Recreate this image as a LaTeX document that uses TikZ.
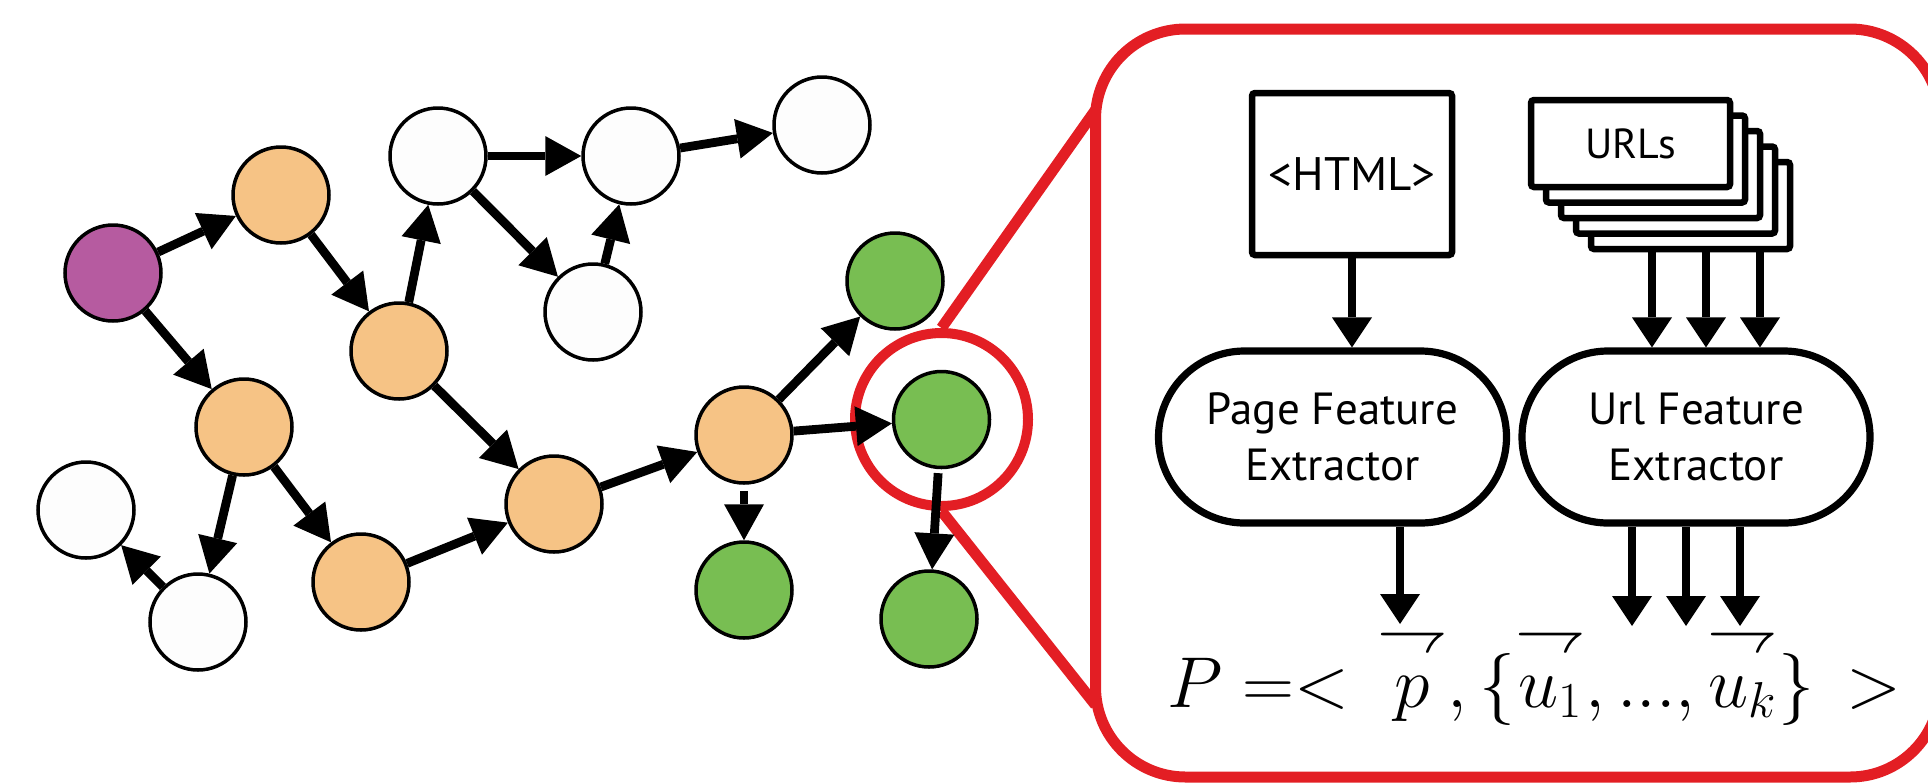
\RequirePackage{fix-cm}
\documentclass[tikz,border=0pt]{standalone}
\usepackage{amsmath}
\usepackage{graphicx}
\usepackage{fontspec}
\newfontfamily\labelfont{PT Sans}
\usetikzlibrary{arrows.meta,shapes.misc}

% feature vector: a right harpoon set well above its argument
\newcommand{\featvec}[1]{\overset{\scalebox{1.0}{$\rightharpoondown$}}{\vphantom{t}#1}}

\definecolor{hubpurple}{RGB}{182,91,160}
\definecolor{pageorange}{RGB}{246,195,133}
\definecolor{relgreen}{RGB}{120,190,82}
\definecolor{plainpage}{RGB}{253,253,253}
\definecolor{zoomred}{RGB}{227,30,36}

\tikzset{
  webpage/.style={circle, draw=black, line width=1.75pt, minimum size=48pt, inner sep=0pt},
  hubpage/.style={webpage, fill=hubpurple},
  crawled/.style={webpage, fill=pageorange},
  relevant/.style={webpage, fill=relgreen},
  unseen/.style={webpage, fill=plainpage},
  hop/.style={line width=4.4pt, -{Triangle[length=18pt,width=20pt,line width=0pt]}},
  flow/.style={line width=3.6pt, -{Triangle[length=15pt,width=20pt,line width=0pt]}},
  doc/.style={draw=black, line width=3.25pt, rounded corners=1.5pt, fill=white, inner sep=0pt},
  extractor/.style={rounded rectangle, draw=black, line width=3.6pt, minimum width=174pt,
    minimum height=86pt, align=center, inner sep=0pt,
    font=\labelfont\fontsize{22.5}{28}\selectfont},
  lens/.style={draw=zoomred, line width=5.5pt},
}

\begin{document}
\begin{tikzpicture}[x=0.5pt,y=-0.5pt]
\useasboundingbox (0,0) rectangle (1928,783);

% zoom lens and the enlarged panel
\node[lens, circle, line width=5pt, minimum size=86.5pt, inner sep=0pt] (lensring) at (941.5,419.5) {};
\node[lens, rectangle, rounded corners=45pt, minimum width=422.25pt, minimum height=374pt,
      inner sep=0pt] (panel) at (1517.75,403) {};
\coordinate (zoomtop) at (1095.5,110);
\coordinate (zoombot) at (1095.5,705);
\draw[zoomred, line width=5.5pt] (lensring.north) -- (zoomtop);
\draw[zoomred, line width=5.5pt] (lensring.south) -- (zoombot);

% web graph
\node[hubpage]  (hub) at (113,273) {};
\node[crawled]  (o1) at (281,195) {};
\node[crawled]  (o2) at (399,351) {};
\node[crawled]  (o3) at (244,427) {};
\node[crawled]  (o4) at (361,582) {};
\node[crawled]  (o5) at (554,504) {};
\node[crawled]  (o6) at (744,435) {};
\node[unseen]   (w1) at (438,156) {};
\node[unseen]   (w2) at (631,156) {};
\node[unseen]   (w3) at (822,125) {};
\node[unseen]   (w4) at (593,312) {};
\node[unseen]   (w5) at (86,510) {};
\node[unseen]   (w6) at (198,622) {};
\node[relevant] (g1) at (895,281) {};
\node[relevant] (g2) at (941.5,419.5) {};
\node[relevant] (g3) at (744,590) {};
\node[relevant] (g4) at (929,619) {};

\draw[hop] (hub) -- (o1);
\draw[hop] (hub) -- (o3);
\draw[hop] (o1) -- (o2);
\draw[hop] (o2) -- (w1);
\draw[hop] (o2) -- (o5);
\draw[hop] (w1) -- (w2);
\draw[hop] (w1) -- (w4);
\draw[hop] (w4) -- (w2);
\draw[hop] (w2) -- (w3);
\draw[hop] (o3) -- (w6);
\draw[hop] (o3) -- (o4);
\draw[hop] (w6) -- (w5);
\draw[hop] (o4) -- (o5);
\draw[hop] (o5) -- (o6);
\draw[hop] (o6) -- (g1);
\draw[hop] (o6) -- (g2);
\draw[hop, shorten <=3pt] (o6) -- (g3);
\draw[hop, shorten <=2pt] (g2) -- (g4);

% page and url inputs
\node[doc, minimum width=100pt, minimum height=81pt,
      font=\labelfont\fontsize{23.5}{28}\selectfont] (html) at (1352,174) {<HTML>};
\foreach \k in {4,3,2,1} {
  \node[doc, minimum width=99.5pt, minimum height=43.5pt]
    (url\k) at ({1630.5+15*\k},{143.5+15.5*\k}) {};
}
\node[doc, minimum width=99.5pt, minimum height=43.5pt,
      font=\labelfont\fontsize{21}{28}\selectfont] (url0) at (1630.5,143.5) {URLs};

% feature extractors
\node[extractor] (pagefx) at (1332.5,437) {Page Feature\\Extractor};
\node[extractor] (urlfx) at (1696,437) {Url Feature\\Extractor};

\draw[flow] (html.south) -- (pagefx.north -| html.south);
\coordinate (uin1) at (1652,0);
\coordinate (uin2) at (1706,0);
\coordinate (uin3) at (1760,0);
\foreach \c in {uin1,uin2,uin3}
  \draw[flow] (url4.south -| \c) -- (urlfx.north -| \c);

\coordinate (pout) at (1400,624);
\coordinate (uout1) at (1632,626);
\coordinate (uout2) at (1686,626);
\coordinate (uout3) at (1740,626);
\draw[flow] (pagefx.south -| pout) -- (pout);
\foreach \c in {uout1,uout2,uout3}
  \draw[flow] (urlfx.south -| \c) -- (\c);

% resulting representation
\node[anchor=base west, inner sep=0pt, font=\fontsize{36}{42}\selectfont] (repr) at (1167,707)
  {$P =<\mkern2mu \featvec{p}, \{\featvec{u_1}, ..., \featvec{u_k}\}\mkern3mu >$};
\end{tikzpicture}
\end{document}
